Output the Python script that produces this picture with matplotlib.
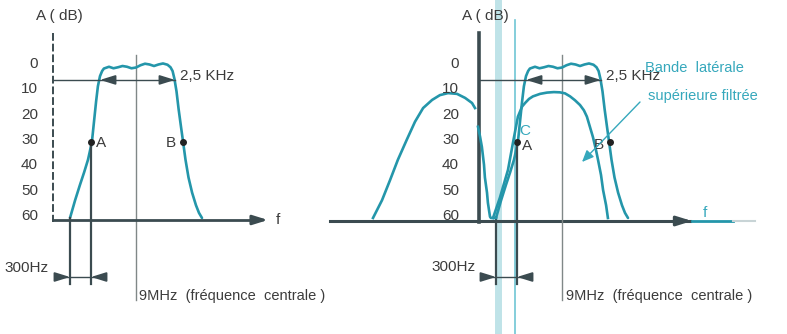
import matplotlib
matplotlib.use("Agg")
import matplotlib.pyplot as plt

# ---------------- data (frequency offset from 9 MHz in kHz-like units, attenuation in dB)
db_ticks = [0, 10, 20, 30, 40, 50, 60]

filter_f = [-2.20, -2.03, -1.87, -1.73, -1.60, -1.47, -1.40, -1.33, -1.27, -1.20, -1.13, -1.07,
            -0.90, -0.75, -0.60, -0.45, -0.30, -0.15, 0.00, 0.15, 0.30, 0.45, 0.60, 0.75, 0.90,
            1.05, 1.15, 1.22,
            1.28, 1.35, 1.42, 1.50, 1.57, 1.65, 1.75, 1.87, 2.00, 2.10, 2.20]
filter_db = [60, 53, 47, 42, 37, 30, 22, 14, 8, 4, 2, 1,
             0.3, 0.9, 0.5, 0.0, 0.3, 0.9, 0.6, -0.3, -0.9, -0.6, 0.0, -0.6, -1.0,
             -0.5, 0.5, 2,
             5, 10, 17, 24, 30, 37, 44, 50, 55, 58, 60]

usb_f = [-2.30, -2.07, -1.80, -1.63, -1.47, -1.33, -1.23, -1.10, -0.97, -0.73, -0.50, -0.27,
         -0.07, 0.10, 0.27, 0.43, 0.60, 0.73, 0.83, 0.93, 1.03, 1.13, 1.20, 1.30, 1.37, 1.47, 1.53]
usb_db = [60, 52, 41, 30, 20, 16, 14.6, 13, 12, 11, 10.5, 10.3,
          10.4, 10.8, 12, 13.5, 15.4, 17.5, 20, 24, 28, 33, 37, 43, 49, 55, 60]

lsb_f = [-6.30, -6.00, -5.73, -5.47, -5.17, -4.90, -4.63, -4.33, -4.07, -3.80,
         -3.50, -3.23, -3.00, -2.90]
lsb_db = [60, 53, 45, 37, 29, 22, 16.6, 13.4, 11.5, 10.7,
          11.0, 12.6, 14.6, 16.6]

notch_f = [-2.80, -2.73, -2.67, -2.60, -2.57, -2.50, -2.47, -2.40, -2.37, -2.20]
notch_db = [24, 28, 32, 39, 44, 50, 54, 59.5, 60, 60]

point_A = (-1.50, 30)
point_B_left = (1.57, 30)
point_B_right = (1.60, 30)
f_300_lo, f_300_hi = -2.20, -1.50
bw_lo, bw_hi, bw_level = -1.20, 1.30, 5.5

# ---------------- style
TEAL = "#2496aa"
TEAL_TXT = "#36a8bc"
DARK = "#3b4b50"
GREY = "#808888"
TXT = "#3c3c3c"
plt.rcParams["font.family"] = ["Liberation Sans", "DejaVu Sans"]

W, H = 787, 334
fig = plt.figure(figsize=(W / 100, H / 100), dpi=100)
fig.patch.set_facecolor("white")

SCALE_X = 30.0      # px per unit
SCALE_Y = 2.533     # px per dB
Y0 = 66             # px of 0 dB


def Y(py):
    return (py - Y0) / SCALE_Y


axL = fig.add_axes([0, 0, 320 / W, 1])
axR = fig.add_axes([320 / W, 0, 467 / W, 1])
CL, CR = 136, 562


def LX(px):
    return (px - CL) / SCALE_X


def RX(px):
    return (px - CR) / SCALE_X


axL.set_xlim(LX(0), LX(320))
axR.set_xlim(RX(320), RX(787))
for ax in (axL, axR):
    ax.set_ylim(Y(H), Y(0))
    ax.axis("off")
    ax.patch.set_alpha(0)

FS = 11
FS_SMALL = 10.5


def arrow(ax, head, tail, color=DARK, lw=1.3, hl=0.9, hw=0.28):
    ax.annotate("", xy=head, xytext=tail,
                arrowprops=dict(arrowstyle=f"-|>,head_length={hl},head_width={hw}",
                                color=color, lw=lw, shrinkA=0, shrinkB=0))


def draw_common(ax, X, y_axis_px, tick_right_px, axis_style):
    # center frequency line
    ax.plot([0, 0], [Y(55), Y(300)], color=GREY, lw=1.0)
    # y axis
    ax.plot([X(y_axis_px), X(y_axis_px)], [Y(33), Y(222)], color=DARK,
            lw=axis_style[0], ls=axis_style[1])
    for d in db_ticks:
        ax.text(X(tick_right_px), d - 0.8, str(d), ha="right", va="center",
                fontsize=FS, color=TXT)
    # filter response
    ax.plot(filter_f, filter_db, color=TEAL, lw=1.9, solid_capstyle="round")
    # 6 dB line with 2.5 kHz arrows
    ax.plot([X(y_axis_px), bw_hi], [bw_level, bw_level], color=DARK, lw=1.0)
    arrow(ax, (bw_lo, bw_level), (bw_lo + 0.5, bw_level))
    arrow(ax, (bw_hi, bw_level), (bw_hi - 0.5, bw_level))
    # 300 Hz verticals and arrows
    ax.plot([f_300_lo, f_300_lo], [60, Y(284)], color=DARK, lw=1.6)
    ax.plot([f_300_hi, f_300_hi], [30, Y(284)], color=DARK, lw=1.6)
    yb = Y(277)
    ax.plot([f_300_lo - 0.4, f_300_hi + 0.45], [yb, yb], color=DARK, lw=1.0)
    arrow(ax, (f_300_lo, yb), (f_300_lo - 0.45, yb))
    arrow(ax, (f_300_hi, yb), (f_300_hi + 0.45, yb))
    ax.plot(*point_A, "o", color="#222", ms=4)


# ---------------- left chart
draw_common(axL, LX, 53, 38, (1.4, (0, (4, 1.5))))
axL.plot([LX(53), LX(258)], [Y(220), Y(220)], color=DARK, lw=2.0)
arrow(axL, (LX(268), Y(220)), (LX(252), Y(220)), lw=2.0)
axL.plot(*point_B_left, "o", color="#222", ms=4)
axL.text(LX(36), Y(16), "A ( dB)", fontsize=FS, color=TXT, va="center")
axL.text(LX(276), Y(220), "f", fontsize=FS, color=TXT, va="center")
axL.text(LX(180), Y(76), "2,5 KHz", fontsize=FS, color=TXT, va="center")
axL.text(LX(4), Y(268), "300Hz", fontsize=FS, color=TXT, va="center")
axL.text(LX(96), Y(143), "A", fontsize=FS, color=TXT, va="center")
axL.text(LX(166), Y(143), "B", fontsize=FS, color=TXT, va="center")
axL.text(LX(139), Y(296), "9MHz  (fréquence  centrale )", fontsize=FS_SMALL, color=TXT,
         va="center")

# ---------------- right chart
# scan artefact bands
axR.plot([RX(498), RX(498)], [Y(0), Y(334)], color="#bfe3e8", lw=5, zorder=0)
axR.plot([RX(515), RX(515)], [Y(20), Y(334)], color="#6fc6d4", lw=1.2, zorder=0)
axR.plot([RX(330), RX(690)], [Y(221), Y(221)], color=DARK, lw=2.2)
arrow(axR, (RX(692), Y(221)), (RX(676), Y(221)), lw=2.2)
axR.plot([RX(692), RX(733)], [Y(221), Y(221)], color=TEAL, lw=2.0)
axR.plot([RX(733), RX(755)], [Y(221), Y(221)], color="#c8d4d6", lw=1.5)
draw_common(axR, RX, 479, 459, (2.6, "-"))
axR.plot(lsb_f, lsb_db, color=TEAL, lw=1.9)
axR.plot(notch_f, notch_db, color=TEAL, lw=1.9)
axR.plot(usb_f, usb_db, color=TEAL, lw=1.9)
axR.plot(*point_B_right, "o", color="#222", ms=4)
axR.text(RX(462), Y(16), "A ( dB)", fontsize=FS, color=TXT, va="center")
axR.text(RX(703), Y(213), "f", fontsize=FS, color=TEAL_TXT, va="center")
axR.text(RX(606), Y(76), "2,5 KHz", fontsize=FS, color=TXT, va="center")
axR.text(RX(431), Y(267), "300Hz", fontsize=FS, color=TXT, va="center")
axR.text(RX(519), Y(131), "C", fontsize=FS, color=TEAL_TXT, va="center")
axR.text(RX(522), Y(146), "A", fontsize=FS, color=TXT, va="center")
axR.text(RX(594), Y(145), "B", fontsize=FS, color=TXT, va="center")
axR.text(RX(566), Y(296), "9MHz  (fréquence  centrale )", fontsize=FS_SMALL, color=TXT,
         va="center")
axR.text(RX(645), Y(68), "Bande  latérale", fontsize=FS_SMALL, color=TEAL_TXT, va="center")
axR.text(RX(648), Y(96), "supérieure filtrée", fontsize=FS_SMALL, color=TEAL_TXT,
         va="center")
arrow(axR, (RX(582), Y(162)), (RX(640), Y(102)), color=TEAL_TXT, lw=1.0, hl=0.7, hw=0.3)

fig.savefig("out.png", dpi=100, facecolor="white")
